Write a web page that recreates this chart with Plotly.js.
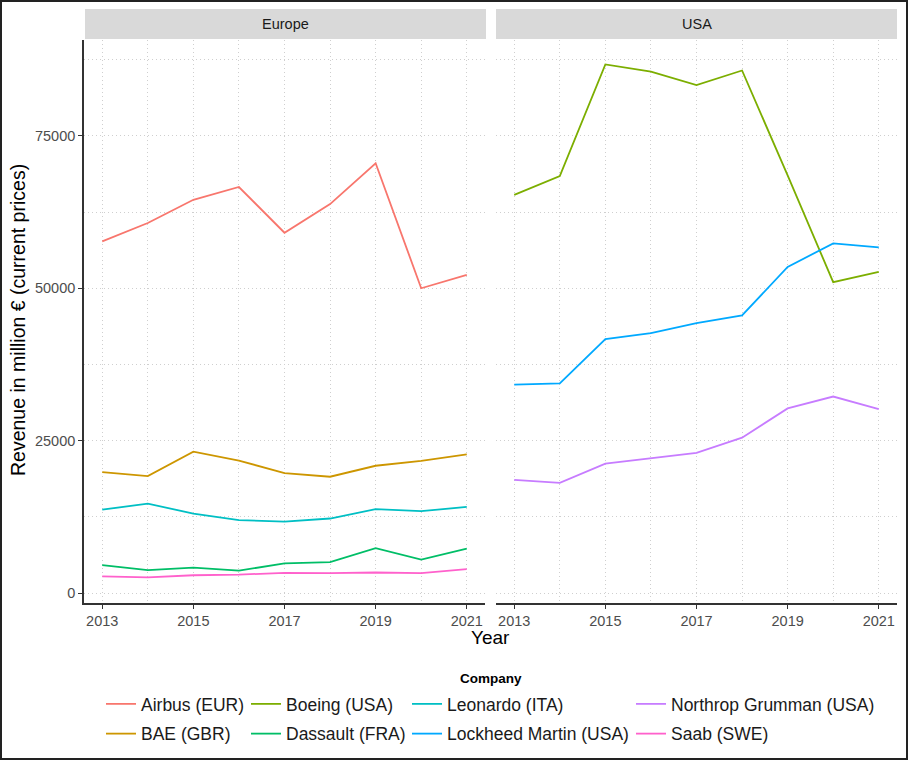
<!DOCTYPE html>
<html>
<head>
<meta charset="utf-8">
<script src="https://cdn.plot.ly/plotly-3.0.1.min.js"></script>
<style>
  html, body { margin: 0; padding: 0; background: #fff; }
  #wrap { position: relative; width: 908px; height: 760px; }
  #chart { width: 908px; height: 760px; }
  #frame { position: absolute; left: 0; top: 0; width: 908px; height: 760px; box-sizing: border-box; border: 2px solid #222; pointer-events: none; }
</style>
</head>
<body>
<div id="wrap"><div id="chart"></div><div id="frame"></div></div>
<script>
// ---- data ----
const years = [2013, 2014, 2015, 2016, 2017, 2018, 2019, 2020, 2021];
const panels = ["Europe", "USA"];
const companies = ["Airbus (EUR)", "BAE (GBR)", "Boeing (USA)", "Dassault (FRA)", "Leonardo (ITA)", "Lockheed Martin (USA)", "Northrop Grumman (USA)", "Saab (SWE)"];
const airbus   = [57700, 60700, 64500, 66600, 59100, 63800, 70500, 50000, 52200];
const bae      = [19850, 19200, 23200, 21750, 19700, 19100, 20900, 21700, 22750];
const boeing   = [65300, 68400, 86700, 85500, 83300, 85700, 68500, 51000, 52700];
const dassault = [4600, 3800, 4200, 3700, 4900, 5100, 7400, 5500, 7300];
const leonardo = [13700, 14700, 13050, 12000, 11750, 12250, 13800, 13450, 14150];
const lockheed = [34200, 34400, 41650, 42650, 44300, 45550, 53500, 57350, 56700];
const northrop = [18600, 18100, 21250, 22150, 23000, 25500, 30300, 32250, 30200];
const saab     = [2750, 2600, 2950, 3050, 3350, 3300, 3400, 3300, 3950];
const xTicks = [2013, 2015, 2017, 2019, 2021];
const yTicks = [0, 25000, 50000, 75000];
const yTickText = ["0", "25000", "50000", "75000"];

// ---- styling ----
const colors = ["#F8766D", "#CD9600", "#7CAE00", "#00BE67", "#00BFC4", "#00A9FF", "#C77CFF", "#FF61CC"];
const seriesVals = [airbus, bae, boeing, dassault, leonardo, lockheed, northrop, saab];
const seriesPanel = [0, 0, 1, 0, 0, 1, 1, 0];
const seriesLegend = ["legend", "legend", "legend2", "legend2", "legend3", "legend3", "legend4", "legend4"];

const traces = companies.map((name, i) => ({
  type: "scatter", mode: "lines", name: name,
  x: years, y: seriesVals[i],
  xaxis: seriesPanel[i] === 0 ? "x" : "x2",
  yaxis: seriesPanel[i] === 0 ? "y" : "y2",
  line: { color: colors[i], width: 1.8 },
  legend: seriesLegend[i], legendgroup: "g" + i, legendrank: i + 1,
  hoverinfo: "x+y+name"
}));

const FONT = "Liberation Sans, Arial, Helvetica, sans-serif";
const W = 908, H = 760;
const px = v => v / W, py = v => 1 - v / H;
const gridC = "#cfcfcf";
const gridDash = "1px,3px";

function xAxis(domain, anchor) {
  return {
    domain: domain, anchor: anchor, range: [2012.6, 2021.4],
    tickvals: xTicks, ticks: "outside", ticklen: 4, tickwidth: 1.2, tickcolor: "#333",
    tickfont: { family: FONT, size: 14.5, color: "#4d4d4d" },
    showline: true, linecolor: "#333", linewidth: 1.6,
    showgrid: true, gridcolor: gridC, griddash: gridDash, gridwidth: 1,
    minor: { dtick: 1, tick0: 2013, showgrid: true, gridcolor: gridC, griddash: gridDash, gridwidth: 1, ticks: "" },
    zeroline: false, fixedrange: true
  };
}
const yDomain = [py(603), py(40)];
const yMinor = { tickvals: [12500, 37500, 62500, 87500], showgrid: true, gridcolor: gridC, griddash: gridDash, gridwidth: 1, ticks: "" };

const legendBase = (x) => ({
  x: px(x), y: py(686), xanchor: "left", yanchor: "top", orientation: "v",
  font: { family: FONT, size: 17.5, color: "#1a1a1a" }, bgcolor: "rgba(0,0,0,0)",
  tracegroupgap: 4, itemclick: false, itemdoubleclick: false
});

function ann(text, x, y, size, extra) {
  return Object.assign({ text: text, xref: "paper", yref: "paper", x: px(x), y: py(y),
    xanchor: "center", yanchor: "middle", showarrow: false,
    font: { family: FONT, size: size, color: "#000" } }, extra || {});
}

const layout = {
  width: W, height: H, margin: { l: 0, r: 0, t: 0, b: 0 },
  paper_bgcolor: "#fff", plot_bgcolor: "#fff",
  font: { family: FONT },
  showlegend: true,
  xaxis: xAxis([px(84), px(485)], "y"),
  xaxis2: xAxis([px(496), px(897)], "y2"),
  yaxis: {
    domain: yDomain, anchor: "x", range: [-1600, 90700],
    tickvals: yTicks, ticktext: yTickText, ticks: "outside", ticklen: 4, tickwidth: 1.2, tickcolor: "#333",
    tickfont: { family: FONT, size: 14.5, color: "#4d4d4d" },
    showline: true, linecolor: "#333", linewidth: 1.6,
    showgrid: true, gridcolor: gridC, griddash: gridDash, gridwidth: 1, minor: yMinor,
    zeroline: false, fixedrange: true
  },
  yaxis2: {
    domain: yDomain, anchor: "x2", matches: "y", range: [-1600, 90700],
    tickvals: yTicks, showticklabels: false, ticks: "", showline: false,
    showgrid: true, gridcolor: gridC, griddash: gridDash, gridwidth: 1, minor: yMinor,
    zeroline: false, fixedrange: true
  },
  legend: legendBase(101),
  legend2: legendBase(246),
  legend3: legendBase(407),
  legend4: legendBase(631),
  shapes: [
    { type: "rect", xref: "paper", yref: "paper", x0: px(85), x1: px(486), y0: py(39), y1: py(9), fillcolor: "#d9d9d9", line: { width: 0 }, layer: "below" },
    { type: "rect", xref: "paper", yref: "paper", x0: px(496), x1: px(897), y0: py(39), y1: py(9), fillcolor: "#d9d9d9", line: { width: 0 }, layer: "below" }
  ],
  annotations: [
    ann(panels[0], 285.5, 24, 14.5, { font: { family: FONT, size: 14.5, color: "#1a1a1a" } }),
    ann(panels[1], 696.5, 24, 14.5, { font: { family: FONT, size: 14.5, color: "#1a1a1a" } }),
    ann("Year", 490.5, 637, 19),
    ann("Revenue in million € (current prices)", 18, 320, 19.5, { textangle: -90 }),
    ann("<b>Company</b>", 491, 678, 13.5)
  ]
};

Plotly.newPlot("chart", traces, layout, { displayModeBar: false });
</script>
</body>
</html>
